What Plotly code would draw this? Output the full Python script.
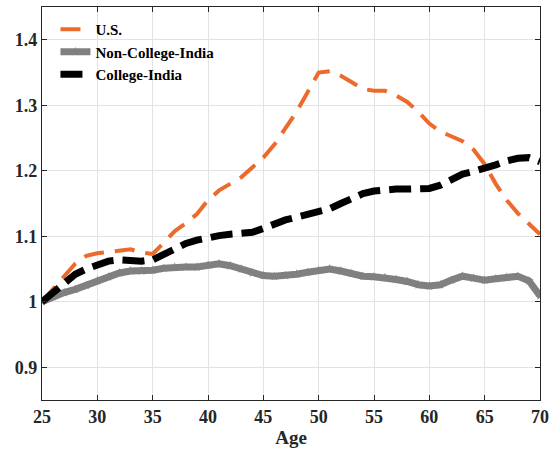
import plotly.graph_objects as go

ages = list(range(25, 71))

us = [1.000, 1.020, 1.040, 1.058, 1.070, 1.074, 1.076, 1.078, 1.080, 1.075,
      1.073, 1.090, 1.108, 1.120, 1.134, 1.155, 1.170, 1.180, 1.190, 1.205,
      1.220, 1.240, 1.265, 1.290, 1.320, 1.350, 1.352, 1.345, 1.335, 1.325,
      1.322, 1.322, 1.315, 1.305, 1.290, 1.272, 1.260, 1.252, 1.245, 1.232,
      1.210, 1.180, 1.155, 1.135, 1.120, 1.103]

non_college_india = [1.000, 1.008, 1.014, 1.019, 1.025, 1.032, 1.038, 1.044, 1.047, 1.047,
                     1.048, 1.051, 1.053, 1.053, 1.053, 1.056, 1.058, 1.055, 1.050, 1.044,
                     1.040, 1.039, 1.040, 1.042, 1.045, 1.048, 1.050, 1.047, 1.043, 1.039,
                     1.038, 1.037, 1.034, 1.031, 1.026, 1.024, 1.026, 1.033, 1.039, 1.036,
                     1.033, 1.035, 1.037, 1.039, 1.032, 1.009]

college_india = [1.000, 1.015, 1.030, 1.042, 1.050, 1.057, 1.062, 1.064, 1.063, 1.062,
                 1.064, 1.073, 1.083, 1.089, 1.094, 1.098, 1.101, 1.103, 1.104, 1.106,
                 1.112, 1.119, 1.125, 1.129, 1.133, 1.136, 1.142, 1.150, 1.158, 1.165,
                 1.169, 1.171, 1.172, 1.172, 1.172, 1.173, 1.178, 1.188, 1.195, 1.199,
                 1.203, 1.209, 1.215, 1.219, 1.220, 1.214]

x_ticks = [25, 30, 35, 40, 45, 50, 55, 60, 65, 70]
y_ticks = [0.9, 1.0, 1.1, 1.2, 1.3, 1.4]
y_tick_labels = ["0.9", "1", "1.1", "1.2", "1.3", "1.4"]

font_family = "Liberation Serif"

fig = go.Figure()
fig.add_trace(go.Scatter(
    x=ages, y=us, name="U.S.", mode="lines",
    line=dict(color="#EC6A2C", width=4, dash="20px,11px"),
))
fig.add_trace(go.Scatter(
    x=ages, y=non_college_india, name="Non-College-India", mode="lines+markers",
    line=dict(color="#808080", width=7),
    marker=dict(symbol="star", size=7, color="#808080"),
))
fig.add_trace(go.Scatter(
    x=ages, y=college_india, name="College-India", mode="lines",
    line=dict(color="#000000", width=7, dash="22px,9px"),
))

axis_common = dict(
    showline=True, linecolor="#262626", linewidth=1.2, mirror="ticks",
    ticks="inside", ticklen=5, tickwidth=1.2, tickcolor="#262626",
    showgrid=True, gridcolor="#E3E3E3", gridwidth=1, zeroline=False,
    tickfont=dict(family=font_family, size=18, color="#262626", weight="bold"),
)

fig.update_xaxes(
    range=[25, 70], tickvals=x_ticks,
    title=dict(text="Age", font=dict(family=font_family, size=19, color="#262626", weight="bold"),
               standoff=4),
    **axis_common,
)
fig.update_yaxes(
    range=[0.85, 1.45], tickvals=y_ticks, ticktext=y_tick_labels,
    **axis_common,
)

fig.update_layout(
    width=557, height=454,
    margin=dict(l=42, r=17, t=7, b=54),
    paper_bgcolor="white", plot_bgcolor="white",
    font=dict(family=font_family, weight="bold", color="#000000"),
    legend=dict(
        x=0.027, y=0.985, xanchor="left", yanchor="top",
        bgcolor="rgba(255,255,255,0)", borderwidth=0,
        font=dict(family=font_family, size=15, color="#000000", weight="bold"),
        tracegroupgap=0, itemwidth=30,
    ),
)

fig.write_html("out.html")
